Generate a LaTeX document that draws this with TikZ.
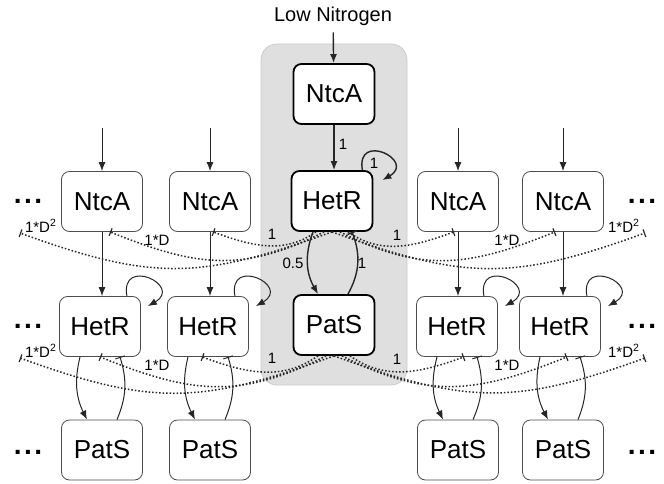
\documentclass[tikz,border=0pt]{standalone}
\usepackage{fontspec}
\setmainfont{Liberation Sans}
\usetikzlibrary{arrows.meta}

\tikzset{
  cell/.style={draw=black!70, rounded corners=4pt, fill=white, minimum width=40.5pt,
    minimum height=30pt, inner sep=0pt, font=\fontsize{13}{15}\selectfont},
  hub/.style={cell, draw=black, line width=0.9pt},
  act/.style={-{Latex[length=4.5pt,width=3.5pt]}, black!85, line width=0.5pt},
  inh/.style={-{Bar[width=5pt]}, black!85, line width=0.5pt},
  dif/.style={densely dotted, line width=0.75pt, black!85, -{Bar[width=4pt,line width=0.6pt]}},
  wt/.style={font=\fontsize{7.5}{8}\selectfont, inner sep=0pt},
  more/.style={font=\fontsize{14}{14}\selectfont\bfseries, inner sep=0pt},
}

\begin{document}
\begin{tikzpicture}[x=0.5pt,y=0.5pt]
\useasboundingbox (0,0) rectangle (664,483);

% Fondo de la celula central
\fill[gray!25, draw=gray!40, rounded corners=8pt] (261,98) rectangle (407,439);

% Celula central
\node[font=\fontsize{10}{12}\selectfont] (low) at (333,467) {Low Nitrogen};
\node[hub] (nC) at (334,389) {NtcA};
\node[hub] (hC) at (332,282) {HetR};
\node[hub] (pC) at (334,158) {PatS};

% Celulas vecinas
\node[cell] (n1) at (102,281.5) {NtcA};
\node[cell] (n2) at (210,281.5) {NtcA};
\node[cell] (n3) at (458,281.5) {NtcA};
\node[cell] (n4) at (563,281.5) {NtcA};
\node[cell] (h1) at (100,156.5) {HetR};
\node[cell] (h2) at (208,156.5) {HetR};
\node[cell] (h3) at (457,156.5) {HetR};
\node[cell] (h4) at (560,156.5) {HetR};
\node[cell] (p1) at (102,33) {PatS};
\node[cell] (p2) at (210,33) {PatS};
\node[cell] (p3) at (458,33) {PatS};
\node[cell] (p4) at (563,33) {PatS};

% Puntos suspensivos
\node[more] (mL1) at (28,282) {.\kern1.2pt.\kern1.2pt.};
\node[more] (mL2) at (28,157) {.\kern1.2pt.\kern1.2pt.};
\node[more] (mL3) at (28,31) {.\kern1.2pt.\kern1.2pt.};
\node[more] (mR1) at (642,282) {.\kern1.2pt.\kern1.2pt.};
\node[more] (mR2) at (642,157) {.\kern1.2pt.\kern1.2pt.};
\node[more] (mR3) at (642,31) {.\kern1.2pt.\kern1.2pt.};

% Entradas de NtcA
\coordinate (i1) at (102,355);
\coordinate (i2) at (210,355);
\coordinate (i3) at (458,355);
\coordinate (i4) at (563,355);
\draw[act, line width=0.7pt] (low) -- (nC);
\draw[act] (i1) -- (n1);
\draw[act] (i2) -- (n2);
\draw[act] (i3) -- (n3);
\draw[act] (i4) -- (n4);

% NtcA -> HetR
\draw[act, line width=0.7pt] (nC.south) -- (nC.south |- hC.north);
\node[wt] (wN) at (343,339) {1};
\draw[act] (n1.south) -- (n1.south |- h1.north);
\draw[act] (n2.south) -- (n2.south |- h2.north);
\draw[act] (n3.south) -- (n3.south |- h3.north);
\draw[act] (n4.south) -- (n4.south |- h4.north);

% Autoactivacion de HetR
\draw[act, line width=0.7pt] ([xshift=-5.5pt]hC.north east) to[out=100,in=30,looseness=4.5] ([xshift=4.5pt,yshift=-5pt]hC.north east);
\node[wt] (wL) at (374,320) {1};
\draw[act] ([xshift=-7pt]h1.north east) to[out=100,in=30,looseness=4.5] ([xshift=3.5pt,yshift=-5pt]h1.north east);
\draw[act] ([xshift=-7pt]h2.north east) to[out=100,in=30,looseness=4.5] ([xshift=3.5pt,yshift=-5pt]h2.north east);
\draw[act] ([xshift=-7pt]h3.north east) to[out=100,in=30,looseness=4.5] ([xshift=3.5pt,yshift=-5pt]h3.north east);
\draw[act] ([xshift=-7pt]h4.north east) to[out=100,in=30,looseness=4.5] ([xshift=3.5pt,yshift=-5pt]h4.north east);

% HetR <-> PatS
\draw[act, line width=0.7pt] ([xshift=-9.5pt]hC.south) to[bend right=25] ([xshift=-8pt]pC.north);
\draw[inh, line width=0.7pt] ([xshift=7pt]pC.north) to[bend right=25] ([xshift=10pt]hC.south);
\node[wt] (w05) at (293,220) {0.5};
\node[wt] (wP) at (362,220) {1};
\draw[act] ([xshift=-10pt]h1.south) to[bend right=20] ([xshift=-7.5pt]p1.north);
\draw[inh] ([xshift=7.5pt]p1.north) to[bend right=20] ([xshift=10pt]h1.south);
\draw[act] ([xshift=-10pt]h2.south) to[bend right=20] ([xshift=-7.5pt]p2.north);
\draw[inh] ([xshift=7.5pt]p2.north) to[bend right=20] ([xshift=10pt]h2.south);
\draw[act] ([xshift=-10pt]h3.south) to[bend right=20] ([xshift=-7.5pt]p3.north);
\draw[inh] ([xshift=7.5pt]p3.north) to[bend right=20] ([xshift=10pt]h3.south);
\draw[act] ([xshift=-10pt]h4.south) to[bend right=20] ([xshift=-7.5pt]p4.north);
\draw[inh] ([xshift=7.5pt]p4.north) to[bend right=20] ([xshift=10pt]h4.south);

% Difusion de HetR hacia NtcA
\coordinate (eL1) at (20,250);
\coordinate (eR1) at (645,250);
\draw[dif] ([xshift=-8pt]hC.south) to[out=215,in=-20] ([xshift=1.5pt]n2.south);
\draw[dif] ([xshift=-4pt]hC.south) to[out=207,in=-22,looseness=1.1] ([xshift=4pt]n1.south);
\draw[dif] (hC.south) to[out=200,in=-20,looseness=1.15] (eL1);
\draw[dif] ([xshift=8pt]hC.south) to[out=-35,in=200] ([xshift=-2pt]n3.south);
\draw[dif] ([xshift=4pt]hC.south) to[out=-27,in=202,looseness=1.1] ([xshift=-4pt]n4.south);
\draw[dif] (hC.south) to[out=-20,in=200,looseness=1.15] (eR1);
\node[wt] (dL1) at (272,249) {1};
\node[wt] (dL2) at (157,243) {1*D};
\node[wt] (dL3) at (41,257) {1*D\textsuperscript{2}};
\node[wt] (dR1) at (397,248) {1};
\node[wt] (dR2) at (507,243) {1*D};
\node[wt] (dR3) at (624,257) {1*D\textsuperscript{2}};

% Difusion de PatS hacia HetR
\coordinate (eL2) at (20,125);
\coordinate (eR2) at (645,125);
\draw[dif] ([xshift=-8pt]pC.south) to[out=215,in=-20] ([xshift=-3pt]h2.south);
\draw[dif] ([xshift=-4pt]pC.south) to[out=207,in=-22,looseness=1.1] (h1.south);
\draw[dif] (pC.south) to[out=200,in=-20,looseness=1.15] (eL2);
\draw[dif] ([xshift=8pt]pC.south) to[out=-35,in=200] ([xshift=3.5pt]h3.south);
\draw[dif] ([xshift=4pt]pC.south) to[out=-27,in=202,looseness=1.1] ([xshift=3.5pt]h4.south);
\draw[dif] (pC.south) to[out=-20,in=200,looseness=1.15] (eR2);
\node[wt] (qL1) at (272,125) {1};
\node[wt] (qL2) at (157,118) {1*D};
\node[wt] (qL3) at (41,132) {1*D\textsuperscript{2}};
\node[wt] (qR1) at (397,124) {1};
\node[wt] (qR2) at (507,118) {1*D};
\node[wt] (qR3) at (624,132) {1*D\textsuperscript{2}};
\end{tikzpicture}
\end{document}
